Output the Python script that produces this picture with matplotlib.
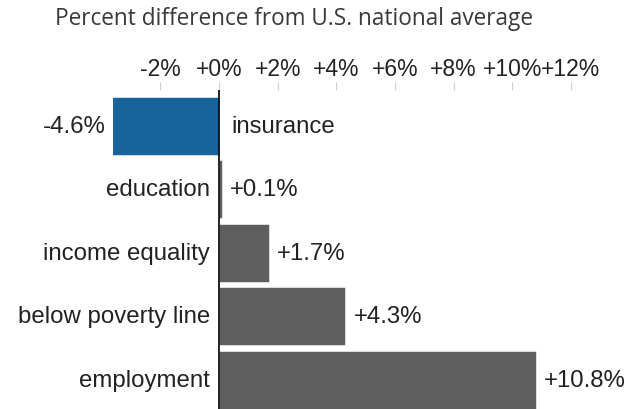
import matplotlib
matplotlib.use("Agg")
import matplotlib.pyplot as plt
from matplotlib.ticker import FuncFormatter

# Data
categories = ["insurance", "education", "income equality", "below poverty line", "employment"]
values = [-4.6, 0.1, 1.7, 4.3, 10.8]
ticks = [-2, 0, 2, 4, 6, 8, 10, 12]

blue = "#17639b"
gray = "#5e5e5e"
text_col = "#222222"

plt.rcParams["font.family"] = ["Liberation Sans", "DejaVu Sans"]

W, H = 625, 410
fig = plt.figure(figsize=(W / 100, H / 100), dpi=100)

# plot area in pixels: left 113, right 610, top 91, bottom 410
ax = fig.add_axes([113 / W, 0, (610 - 113) / W, (410 - 91) / H])
xmin, xmax = -3.62, 13.34
ax.set_xlim(xmin, xmax)
ax.set_ylim(4.46, -0.565)

y = range(len(categories))
cols = [blue if v < 0 else gray for v in values]
ax.barh(y, values, height=0.91, color=cols, edgecolor="white", linewidth=0.4)
ax.axvline(0, color="black", linewidth=1.2, zorder=3)

fs = 17.3
for i, (cat, v) in enumerate(zip(categories, values)):
    if v < 0:
        ax.annotate(cat, (0, i), xytext=(9, 0), textcoords="offset points",
                    ha="left", va="center", fontsize=fs, color=text_col)
        ax.annotate(f"{v:.1f}%", (max(v, xmin), i), xytext=(-5, 0),
                    textcoords="offset points", ha="right", va="center",
                    fontsize=fs, color=text_col, annotation_clip=False)
    else:
        ax.annotate(cat, (0, i), xytext=(-6.5, 0), textcoords="offset points",
                    ha="right", va="center", fontsize=fs, color=text_col,
                    annotation_clip=False)
        ax.annotate(f"+{v:.1f}%", (v, i), xytext=(6, 0),
                    textcoords="offset points", ha="left", va="center",
                    fontsize=fs, color=text_col, annotation_clip=False)

ax.xaxis.tick_top()
ax.set_xticks(ticks)
ax.xaxis.set_major_formatter(FuncFormatter(lambda v, p: f"{v:+.0f}%" if v != 0 else "+0%"))
ax.tick_params(axis="x", length=5.5, width=0.8, color="#d0d0d0", pad=1.5,
               labelsize=16.5, labelcolor=text_col)
ax.set_yticks([])
for s in ax.spines.values():
    s.set_visible(False)

fig.text(55 / W, 1 - 19 / H, "Percent difference from U.S. national average",
         ha="left", va="center", fontsize=16.3, color="#3a3a3a",
         family=["Open Sans", "DejaVu Sans"])

fig.savefig("out.png", dpi=100)
